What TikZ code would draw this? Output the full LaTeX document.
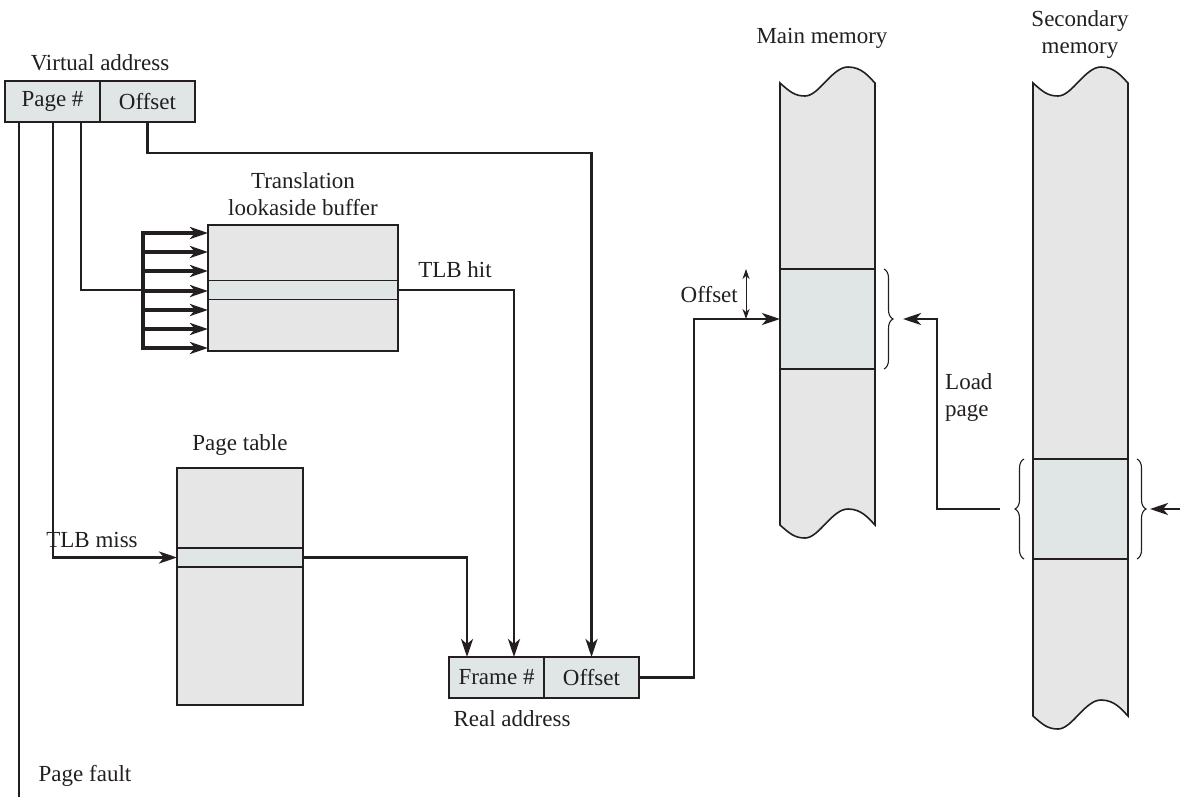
\documentclass[tikz,border=0pt]{standalone}
\usepackage{fontspec}
\setmainfont{Liberation Serif}
\usetikzlibrary{arrows.meta,decorations.pathreplacing,calc}
\definecolor{ink}{HTML}{231F20}
\definecolor{gfill}{HTML}{E6E6E6}
\definecolor{hfill}{HTML}{E0E6E6}
\newcommand\dfont{\fontsize{23}{27}\selectfont}
% memory column: #1 left x, #2 top y, #3 straight height
\newcommand\memcol[3]{%
  \path[fill=gfill, draw=ink, line width=1.6pt] (#1,#2)
    .. controls +(10,9) and +(-10,0) .. ++(25,13)
    .. controls +(14,0) and +(-16,0) .. ++(43,-29)
    .. controls +(14,0) and +(-6,-6) .. ++(27,16)
    -- ++(0,#3)
    .. controls +(-6,-6) and +(14,0) .. ++(-27,-16)
    .. controls +(-16,0) and +(14,0) .. ++(-43,29)
    .. controls +(-10,0) and +(10,9) .. ++(-25,-13)
    -- cycle;}
\begin{document}
\begin{tikzpicture}[x=1pt,y=-1pt,
  lbl/.style={font=\dfont, text=ink, inner sep=0},
  cell/.style={draw=ink, line width=1.6pt, fill=hfill, inner sep=0, outer sep=0,
    minimum width=95pt, minimum height=41pt, font=\dfont, text=ink},
  tbl/.style={draw=ink, line width=1.6pt, fill=gfill, inner sep=0, outer sep=0},
  rowbox/.style={draw=ink, line width=1.6pt, fill=hfill, inner sep=0, outer sep=0},
  conn/.style={draw=ink, line width=2.8pt},
  arr/.style={conn, -{Stealth[length=18pt,width=12pt,inset=5pt]}},
  fanarr/.style={arr, line width=3.4pt},
  thinarr/.style={draw=ink, line width=1pt, {Stealth[length=10pt,width=7pt,inset=3pt]}-{Stealth[length=10pt,width=7pt,inset=3pt]}},
  brc/.style={draw=ink, line width=1.1pt, decorate, decoration={brace, amplitude=9pt}},
]
\useasboundingbox (0,0) rectangle (1180,797);

% ---------- virtual address ----------
\node[lbl] (valbl) at (100,63) {Virtual address};
\node[cell] (vapage) at (52.5,101.5) {Page \#};
\node[cell] (vaoff) at (147.5,101.5) {Offset};

% ---------- TLB ----------
\node[lbl, align=center] (tlblbl) at (303,194) {Translation\\lookaside buffer};
\node[tbl, minimum width=190pt, minimum height=126pt] (tlb) at (303,288) {};
\node[rowbox, minimum width=190pt, minimum height=19pt] (tlbrow) at (303,290) {};
\node[lbl] (hitlbl) at (455,270) {TLB hit};

% ---------- page table ----------
\node[lbl] (ptlbl) at (240,445) {Page table};
\node[tbl, minimum width=126pt, minimum height=237pt] (pt) at (240,586.5) {};
\node[rowbox, minimum width=126pt, minimum height=19pt] (ptrow) at (240,557.5) {};
\node[lbl] (misslbl) at (92,540) {TLB miss};

% ---------- real address ----------
\node[cell] (fr) at (496.5,677.5) {Frame \#};
\node[cell] (ro) at (591.5,677.5) {Offset};
\node[lbl] (ralbl) at (512,719) {Real address};

% ---------- main memory ----------
\node[lbl] (mmlbl) at (822,38) {Main memory};
\memcol{780}{83}{442}
\node[tbl, fill=hfill, minimum width=95pt, minimum height=100pt] (mmb) at (827.5,319) {};
\node[lbl, anchor=east] (offlbl) at (738,295) {Offset};

% ---------- secondary memory ----------
\node[lbl, align=center] (smlbl) at (1080,35) {Secondary\\memory};
\memcol{1033}{83}{633}
\node[tbl, fill=hfill, minimum width=95pt, minimum height=100pt] (smb) at (1080.5,509) {};
\node[lbl, align=left, anchor=west] (loadlbl) at (945,397) {Load\\page};
\node[lbl] (pflbl) at (85,776) {Page fault};

% ---------- coordinates ----------
\coordinate (pf) at (19,797);
\coordinate (mx) at (53,0);
\coordinate (fx) at (81,0);
\coordinate (bx) at (143,0);
\coordinate (oy) at (0,153);
\coordinate (hx) at (514,0);
\coordinate (px) at (467,0);
\coordinate (rx) at (694,0);
\coordinate (ox) at (746,0);
\coordinate (ls) at (1000,0);
\coordinate (lx) at (937,0);
\coordinate (le) at (903,0);
\coordinate (ra0) at (1182,509);
\coordinate (ra1) at (1150,509);

% ---------- connectors ----------
\draw[conn] (pf |- vapage.south) -- (pf);
\draw[arr] (mx |- vapage.south) |- (ptrow.west);
\draw[conn] (fx |- vapage.south) |- (bx |- tlbrow.west);
\draw[fanarr] (bx |- tlbrow.west) |- ($(tlb.north west)+(0,8)$);
\draw[fanarr] (bx |- tlbrow.west) |- ($(tlb.south west)+(0,-3)$);
\foreach \y in {252,271,291,310,329} {
  \coordinate (ty) at (0,\y);
  \draw[fanarr] (bx |- ty) -- (tlb.west |- ty);
}
\draw[arr] (vaoff.south) -- (vaoff.south |- oy) -| (ro.north);
\draw[arr] (tlbrow.east) -| (hx |- fr.north);
\draw[arr] (ptrow.east) -| (px |- fr.north);
\draw[arr] (ro.east) -| (rx |- mmb.west) -- (mmb.west);
\draw[thinarr] (ox |- mmb.north) -- (ox |- mmb.west);
\draw[arr] (ls |- smb.west) -| (lx |- mmb.west) -- (le |- mmb.west);
\draw[arr] (ra0) -- (ra1);

% ---------- braces ----------
\draw[brc] (884,269) -- (884,369);
\draw[brc] (1137,459) -- (1137,559);
\draw[brc] (1024,559) -- (1024,459);
\end{tikzpicture}
\end{document}
